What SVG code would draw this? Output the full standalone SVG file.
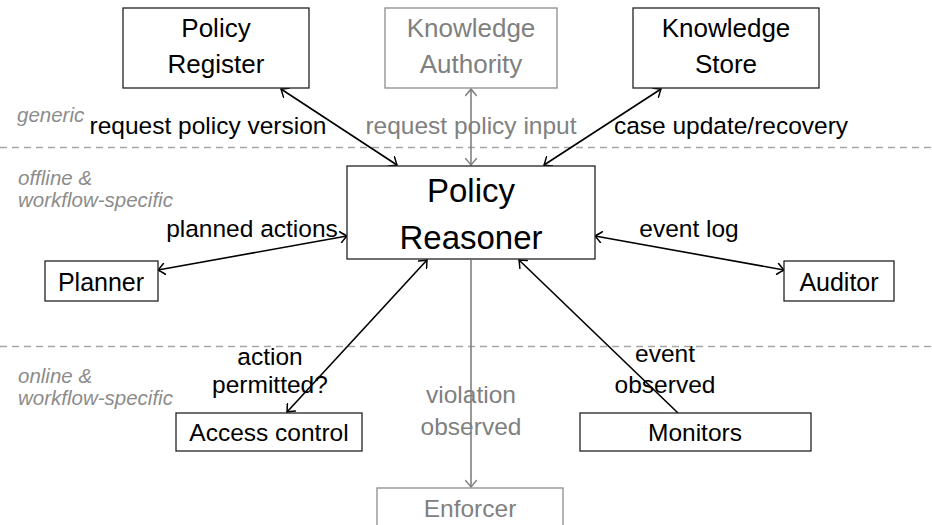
<svg xmlns="http://www.w3.org/2000/svg" width="932" height="525" viewBox="0 0 932 525">
<defs>
<style>
text{font-family:"Liberation Sans",Arial,sans-serif;text-anchor:middle}
.box{fill:#fff;stroke:#222;stroke-width:1.3}
.gbox{fill:#fff;stroke:#8c8c8c;stroke-width:1.3}
.t{font-size:26px;fill:#000}
.gt{font-size:26px;fill:#808080}
.lbl{font-size:24.5px;fill:#000}
.glbl{font-size:24.5px;fill:#808080}
.zone{font-size:20.5px;font-style:italic;fill:#8c8c8c;text-anchor:start}
.sep{stroke:#a6a6a6;stroke-width:1.3;stroke-dasharray:7 5}
.a{stroke:#000;stroke-width:1.6;fill:none}
.ga{stroke:#808080;stroke-width:1.6;fill:none}
</style>
<marker id="ah" viewBox="-8 -6 10 12" refX="0" refY="0" markerWidth="10" markerHeight="12" markerUnits="userSpaceOnUse" orient="auto-start-reverse">
<path d="M-6.5,-5.5 Q-2,-1.5 0,0 Q-2,1.5 -6.5,5.5" fill="none" stroke="#000" stroke-width="1.5" stroke-linecap="round"/>
</marker>
<marker id="gah" viewBox="-8 -6 10 12" refX="0" refY="0" markerWidth="10" markerHeight="12" markerUnits="userSpaceOnUse" orient="auto-start-reverse">
<path d="M-6.5,-5.5 Q-2,-1.5 0,0 Q-2,1.5 -6.5,5.5" fill="none" stroke="#808080" stroke-width="1.5" stroke-linecap="round"/>
</marker>
</defs>
<rect width="932" height="525" fill="#fff"/>

<g id="zones">
<line class="sep" x1="0" y1="147.5" x2="932" y2="147.5"/>
<line class="sep" x1="0" y1="346.5" x2="932" y2="346.5"/>
<text class="zone" x="17" y="122">generic</text>
<text class="zone" x="18" y="185">offline &amp;</text>
<text class="zone" x="18" y="207">workflow-specific</text>
<text class="zone" x="18" y="383">online &amp;</text>
<text class="zone" x="18" y="405">workflow-specific</text>
</g>

<g id="connectors">
<line class="a" x1="281" y1="89" x2="397" y2="165" marker-start="url(#ah)" marker-end="url(#ah)"/>
<line class="ga" x1="471" y1="89" x2="471" y2="165" marker-start="url(#gah)" marker-end="url(#gah)"/>
<line class="a" x1="661" y1="89" x2="544" y2="165" marker-start="url(#ah)" marker-end="url(#ah)"/>
<line class="a" x1="158" y1="270" x2="347" y2="236" marker-start="url(#ah)" marker-end="url(#ah)"/>
<line class="a" x1="595" y1="236" x2="784" y2="270" marker-start="url(#ah)" marker-end="url(#ah)"/>
<line class="a" x1="427" y1="260" x2="287" y2="412" marker-start="url(#ah)" marker-end="url(#ah)"/>
<line class="a" x1="678" y1="413" x2="519" y2="260" marker-end="url(#ah)"/>
<line class="ga" x1="471" y1="260" x2="471" y2="487" marker-end="url(#gah)"/>
<text class="lbl" x="208" y="134">request policy version</text>
<text class="glbl" x="471" y="134">request policy input</text>
<text class="lbl" x="731" y="134">case update/recovery</text>
<text class="lbl" x="252" y="237">planned actions</text>
<text class="lbl" x="689" y="237">event log</text>
<text class="lbl" x="270" y="365">action</text>
<text class="lbl" x="270" y="393">permitted?</text>
<text class="lbl" x="665" y="362">event</text>
<text class="lbl" x="665" y="393">observed</text>
<text class="glbl" x="471" y="403">violation</text>
<text class="glbl" x="471" y="435">observed</text>
</g>

<g id="policy-register">
<rect class="box" x="123" y="8" width="186" height="80"/>
<text class="t" x="216" y="37">Policy</text>
<text class="t" x="216" y="73">Register</text>
</g>
<g id="knowledge-authority">
<rect class="gbox" x="385" y="8" width="172" height="80"/>
<text class="gt" x="471" y="37">Knowledge</text>
<text class="gt" x="471" y="73">Authority</text>
</g>
<g id="knowledge-store">
<rect class="box" x="633" y="8" width="186" height="80"/>
<text class="t" x="726" y="37">Knowledge</text>
<text class="t" x="726" y="73">Store</text>
</g>
<g id="policy-reasoner">
<rect class="box" x="347" y="166" width="248" height="93"/>
<text class="t" style="font-size:33px" x="471" y="202">Policy</text>
<text class="t" style="font-size:33px" x="471" y="249">Reasoner</text>
</g>
<g id="planner">
<rect class="box" x="45" y="261" width="113" height="40"/>
<text class="t" style="font-size:25px" x="101" y="291">Planner</text>
</g>
<g id="auditor">
<rect class="box" x="784" y="261" width="110" height="40"/>
<text class="t" style="font-size:25px" x="839" y="291">Auditor</text>
</g>
<g id="access-control">
<rect class="box" x="176" y="413" width="186" height="38"/>
<text class="t" style="font-size:24.5px" x="269" y="441">Access control</text>
</g>
<g id="monitors">
<rect class="box" x="580" y="413" width="231" height="38"/>
<text class="t" style="font-size:24.5px" x="695" y="441">Monitors</text>
</g>
<g id="enforcer">
<rect class="gbox" x="377" y="488" width="186" height="50"/>
<text class="gt" style="font-size:24.5px" x="470" y="517">Enforcer</text>
</g>
</svg>
